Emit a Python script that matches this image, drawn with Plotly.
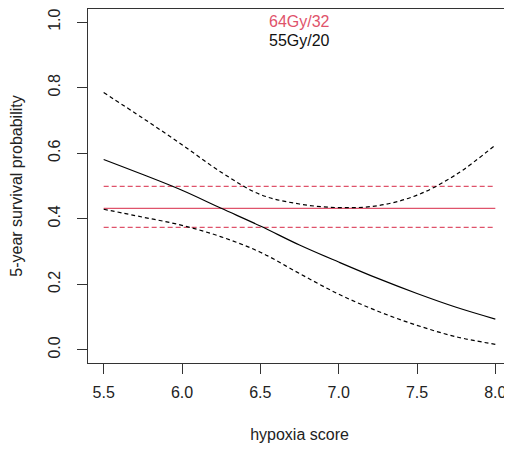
import plotly.graph_objects as go

# Data
hypoxia = [5.5, 5.75, 6.0, 6.25, 6.5, 6.75, 7.0, 7.25, 7.5, 7.75, 8.0]
surv_55 = [0.581, 0.535, 0.487, 0.432, 0.378, 0.320, 0.268, 0.218, 0.172, 0.130, 0.094]
upper_55 = [0.785, 0.707, 0.626, 0.542, 0.474, 0.445, 0.434, 0.440, 0.472, 0.535, 0.625]
lower_55 = [0.429, 0.405, 0.380, 0.345, 0.298, 0.233, 0.170, 0.118, 0.075, 0.040, 0.017]

x_range_64 = [5.5, 8.0]
surv_64 = 0.432
upper_64 = 0.499
lower_64 = 0.374

x_ticks = [5.5, 6.0, 6.5, 7.0, 7.5, 8.0]
x_ticktext = ["5.5", "6.0", "6.5", "7.0", "7.5", "8.0"]
y_ticks = [0.0, 0.2, 0.4, 0.6, 0.8, 1.0]
y_ticktext = ["0.0", "0.2", "0.4", "0.6", "0.8", "1.0"]

legend_labels = ["64Gy/32", "55Gy/20"]

RED = "#DF536B"
BLACK = "#000000"
FONT = "Liberation Sans, Arial, sans-serif"

fig = go.Figure()

# 64Gy/32 horizontal lines
fig.add_trace(go.Scatter(x=x_range_64, y=[surv_64] * 2, mode="lines",
                         line=dict(color=RED, width=1.2), showlegend=False))
fig.add_trace(go.Scatter(x=x_range_64, y=[upper_64] * 2, mode="lines",
                         line=dict(color=RED, width=1.2, dash="5px,3px"), showlegend=False))
fig.add_trace(go.Scatter(x=x_range_64, y=[lower_64] * 2, mode="lines",
                         line=dict(color=RED, width=1.2, dash="5px,3px"), showlegend=False))

# 55Gy/20 curves
fig.add_trace(go.Scatter(x=hypoxia, y=surv_55, mode="lines", line_shape="spline",
                         line=dict(color=BLACK, width=1.2), showlegend=False))
fig.add_trace(go.Scatter(x=hypoxia, y=upper_55, mode="lines", line_shape="spline",
                         line=dict(color=BLACK, width=1.2, dash="4px,3px"), showlegend=False))
fig.add_trace(go.Scatter(x=hypoxia, y=lower_55, mode="lines", line_shape="spline",
                         line=dict(color=BLACK, width=1.2, dash="4px,3px"), showlegend=False))

# The page body has an 8px margin, so the figure is sized to fill the rest of the window.
fig.update_layout(
    width=504, height=443,
    margin=dict(l=80, r=1, t=1, b=88, autoexpand=False),
    paper_bgcolor="white", plot_bgcolor="white",
    font=dict(family=FONT, size=16, color="#222222"),
    xaxis=dict(
        range=[5.4, 8.1], tickmode="array", tickvals=x_ticks, ticktext=x_ticktext,
        ticks="outside", ticklen=10, tickwidth=1, tickcolor="#333333",
        ticklabelstandoff=5,
        showline=True, linecolor="#333333", linewidth=1, mirror=True,
        showgrid=False, zeroline=False, automargin=False,
        tickfont=dict(size=16, color="#222222"),
        title=dict(text="hypoxia score", font=dict(size=16, color="#222222"), standoff=28),
    ),
    yaxis=dict(
        range=[-0.04, 1.04], tickmode="array", tickvals=y_ticks, ticktext=y_ticktext,
        ticks="outside", ticklen=10, tickwidth=1, tickcolor="#333333", tickangle=-90,
        ticklabelstandoff=11,
        showline=True, linecolor="#333333", linewidth=1, mirror=True,
        showgrid=False, zeroline=False, automargin=False,
        tickfont=dict(size=16, color="#222222"),
        title=dict(text="5-year survival probability", font=dict(size=16, color="#222222"), standoff=23),
    ),
    annotations=[
        dict(text=legend_labels[0], xref="paper", yref="paper", x=0.5, y=0.966,
             xanchor="center", yanchor="middle", showarrow=False,
             font=dict(size=16, color=RED, family=FONT)),
        dict(text=legend_labels[1], xref="paper", yref="paper", x=0.5, y=0.912,
             xanchor="center", yanchor="middle", showarrow=False,
             font=dict(size=16, color="#111111", family=FONT)),
    ],
)

fig.write_html("out.html")
